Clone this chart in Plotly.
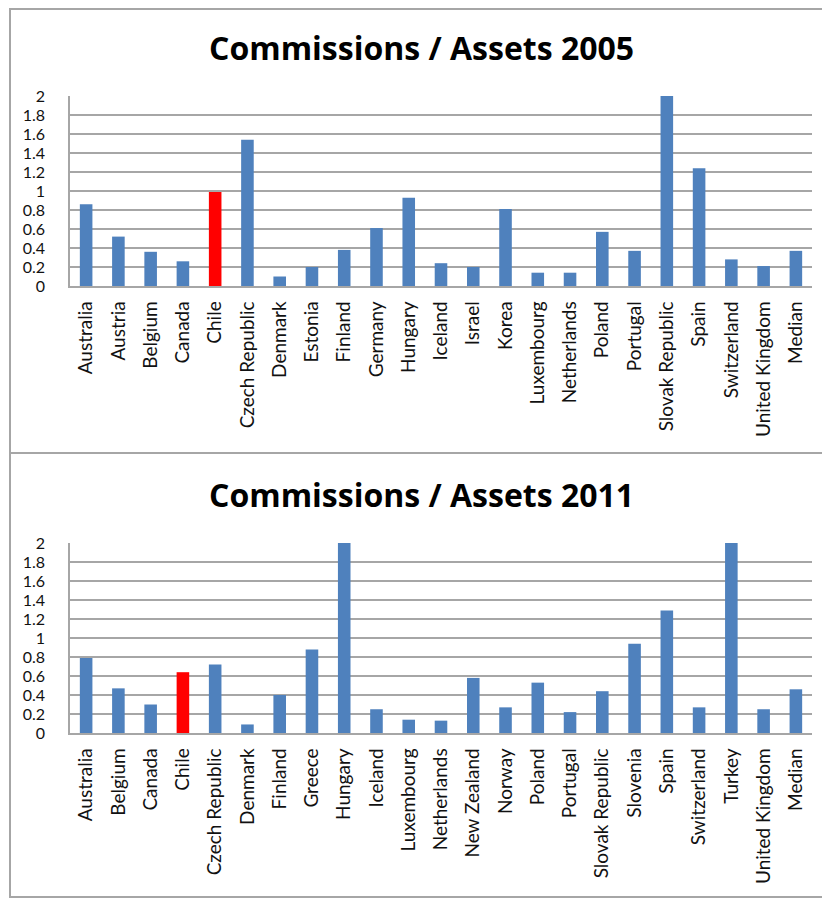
import plotly.graph_objects as go

# -------------------------
# Datos
# -------------------------
paises_2005 = ["Australia", "Austria", "Belgium", "Canada", "Chile", "Czech Republic",
               "Denmark", "Estonia", "Finland", "Germany", "Hungary", "Iceland", "Israel",
               "Korea", "Luxembourg", "Netherlands", "Poland", "Portugal", "Slovak Republic",
               "Spain", "Switzerland", "United Kingdom", "Median"]
valores_2005 = [0.86, 0.52, 0.36, 0.26, 0.99, 1.54, 0.10, 0.20, 0.38, 0.61, 0.93, 0.24,
                0.20, 0.81, 0.14, 0.14, 0.57, 0.37, 2.05, 1.24, 0.28, 0.21, 0.37]

paises_2011 = ["Australia", "Belgium", "Canada", "Chile", "Czech Republic", "Denmark",
               "Finland", "Greece", "Hungary", "Iceland", "Luxembourg", "Netherlands",
               "New Zealand", "Norway", "Poland", "Portugal", "Slovak Republic", "Slovenia",
               "Spain", "Switzerland", "Turkey", "United Kingdom", "Median"]
valores_2011 = [0.79, 0.47, 0.30, 0.64, 0.72, 0.09, 0.40, 0.88, 2.05, 0.25, 0.14, 0.13,
                0.58, 0.27, 0.53, 0.22, 0.44, 0.94, 1.29, 0.27, 2.05, 0.25, 0.46]

titulos = ["Commissions / Assets 2005", "Commissions / Assets 2011"]
ticks_y = [0, 0.2, 0.4, 0.6, 0.8, 1, 1.2, 1.4, 1.6, 1.8, 2]
ticks_y_txt = ["0", "0.2", "0.4", "0.6", "0.8", "1", "1.2", "1.4", "1.6", "1.8", "2"]

AZUL = "#4F81BD"
ROJO = "#FF0000"
GRIS = "#a6a6a6"
FUENTE = "Lato, Arial"

# la pagina tiene 8px de margen en el body: la figura se corre 8px
OFF = 8
W, H = 830 - OFF, 899 - OFF

def px(pix):
    return (pix - OFF) / W

def py(pix):
    # pixel de pagina desde arriba -> coordenada paper
    return 1 - (pix - OFF) / H

fig = go.Figure()

paneles = [
    (paises_2005, valores_2005, "x", "y", titulos[0], 47, (9, 453)),
    (paises_2011, valores_2011, "x2", "y2", titulos[1], 495, (453, 897)),
]

for cats, vals, xa, ya, titulo, ty, (b0, b1) in paneles:
    colores = [ROJO if c == "Chile" else AZUL for c in cats]
    fig.add_trace(go.Bar(
        x=cats, y=vals, xaxis=xa, yaxis=ya,
        marker=dict(color=colores, line=dict(width=0)),
        showlegend=False
    ))
    fig.add_annotation(
        text=f"<b>{titulo}</b>", xref="paper", yref="paper",
        x=px(421.5), y=py(ty), yanchor="middle", showarrow=False,
        font=dict(family="Open Sans, Arial", size=32, color="#000000")
    )
    fig.add_shape(type="rect", xref="paper", yref="paper",
                  x0=px(10), x1=1.0, y0=py(b1), y1=py(b0),
                  line=dict(color=GRIS, width=2), layer="below")

eje_x = dict(
    domain=[px(70), px(812)], showgrid=False, showline=True, linecolor=GRIS,
    linewidth=1.5, tickangle=-90, ticks="", automargin=False, ticklabelstandoff=6,
    tickfont=dict(family=FUENTE, size=19, color="#111111"),
)
eje_y = dict(
    range=[0, 2], tickvals=ticks_y, ticktext=ticks_y_txt, showgrid=True,
    gridcolor=GRIS, gridwidth=1.5, showline=True, linecolor=GRIS, linewidth=1.5,
    zeroline=False, ticks="", ticklabelstandoff=20, automargin=False,
    tickfont=dict(family=FUENTE, size=16, color="#111111"),
)

fig.update_layout(
    width=W, height=H,
    margin=dict(l=0, r=0, t=0, b=0),
    paper_bgcolor="white", plot_bgcolor="white",
    bargap=0.61,
    xaxis=dict(**eje_x, anchor="y"),
    yaxis=dict(**eje_y, domain=[py(286), py(96)], anchor="x"),
    xaxis2=dict(**eje_x, anchor="y2"),
    yaxis2=dict(**eje_y, domain=[py(733), py(543)], anchor="x2"),
)

fig.write_html("out.html")
